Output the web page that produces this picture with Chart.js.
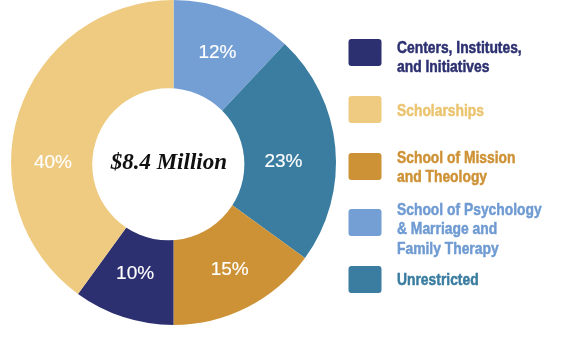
<!DOCTYPE html>
<html>
<head>
<meta charset="utf-8">
<script src="https://cdn.jsdelivr.net/npm/chart.js@4.4.1/dist/chart.umd.min.js"></script>
<style>
  html, body { margin: 0; padding: 0; background: #ffffff; }
  #wrap { width: 561px; height: 354px; }
</style>
</head>
<body>
<div id="wrap"><canvas id="c" width="561" height="354"></canvas></div>
<script>
// ---- data (slice order, clockwise from 12 o'clock) ----
const categories = [
  ['School of Psychology', '& Marriage and', 'Family Therapy'],
  ['Unrestricted'],
  ['School of Mission', 'and Theology'],
  ['Centers, Institutes,', 'and Initiatives'],
  ['Scholarships']
];
const shares = [12, 23, 15, 10, 40];
const percentLabels = ['12%', '23%', '15%', '10%', '40%'];
const centerTitle = '$8.4 Million';

// ---- style ----
const colors = ['#749FD4', '#3A7DA0', '#CE9236', '#2C3070', '#EECB80'];
const textColors = ['#6F9BD2', '#3A7DA0', '#CE9236', '#2C3070', '#EBC470'];
const labelNudge = [[0, 0], [-9, 10], [2, 0], [-1.5, -3.5], [-7, 36]];
const legendOrder = [3, 4, 2, 0, 1];
const legendBoxTops = [39, 96, 153, 209, 266];
const legendFirstBaselines = [53, 116, 163, 215, 285];

const overlay = {
  id: 'overlay',
  afterDatasetsDraw(chart) {
    const ctx = chart.ctx;
    const meta = chart.getDatasetMeta(0);
    const arc0 = meta.data[0];
    const cx = arc0.x, cy = arc0.y, R = arc0.outerRadius;

    // white centre disc
    const hx = cx - 5.2, hy = cy + 1.8, hr = R * 0.468;
    ctx.save();
    ctx.beginPath();
    ctx.arc(hx, hy, hr, 0, Math.PI * 2);
    ctx.fillStyle = '#ffffff';
    ctx.fill();

    // centre title
    ctx.fillStyle = '#111111';
    ctx.font = 'italic bold 23px "Liberation Serif", "DejaVu Serif", serif';
    ctx.textAlign = 'center';
    ctx.textBaseline = 'alphabetic';
    ctx.fillText(centerTitle, hx + 0.5, hy + 5);

    // percent labels
    ctx.fillStyle = '#ffffff';
    ctx.strokeStyle = '#ffffff';
    ctx.lineWidth = 0.15;
    ctx.font = '19px "Liberation Sans", Arial, sans-serif';
    ctx.textBaseline = 'middle';
    meta.data.forEach((arc, i) => {
      const mid = (arc.startAngle + arc.endAngle) / 2;
      const r = R * 0.735;
      const x = cx + Math.cos(mid) * r + labelNudge[i][0];
      const y = cy + Math.sin(mid) * r + labelNudge[i][1];
      ctx.fillText(percentLabels[i], x, y + 1);
      ctx.strokeText(percentLabels[i], x, y + 1);
    });

    // legend
    ctx.textBaseline = 'alphabetic';
    legendOrder.forEach((idx, k) => {
      const top = legendBoxTops[k];
      ctx.fillStyle = colors[idx];
      ctx.beginPath();
      ctx.roundRect(348.5, top, 33, 27, 3);
      ctx.fill();
    });
    ctx.font = 'bold 17px "Liberation Sans", Arial, sans-serif';
    ctx.textAlign = 'left';
    const sx = 0.815;
    ctx.save();
    ctx.scale(sx, 1);
    ctx.lineWidth = 0.5;
    legendOrder.forEach((idx, k) => {
      ctx.fillStyle = textColors[idx];
      ctx.strokeStyle = textColors[idx];
      const lines = chart.data.labels[idx];
      lines.forEach((ln, j) => {
        const y = legendFirstBaselines[k] + j * 19.3;
        ctx.fillText(ln, 397 / sx, y);
        ctx.strokeText(ln, 397 / sx, y);
      });
    });
    ctx.restore();
    ctx.restore();
  }
};

new Chart(document.getElementById('c'), {
  type: 'doughnut',
  data: {
    labels: categories,
    datasets: [{
      data: shares,
      backgroundColor: colors,
      borderWidth: 0,
      hoverOffset: 0
    }]
  },
  options: {
    responsive: false,
    animation: false,
    devicePixelRatio: 1,
    cutout: 0,
    rotation: 0,
    layout: { padding: { left: 11, right: 225, top: 0, bottom: 29 } },
    plugins: {
      legend: { display: false },
      tooltip: { enabled: false }
    },
    events: []
  },
  plugins: [overlay]
});
</script>
</body>
</html>
